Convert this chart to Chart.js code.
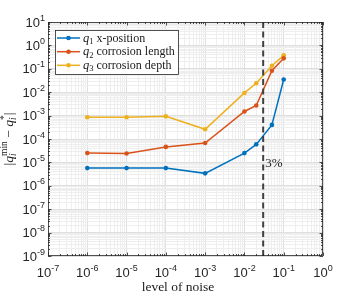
<!DOCTYPE html>
<html>
<head>
<meta charset="utf-8">
<script src="https://cdn.jsdelivr.net/npm/chart.js@4/dist/chart.umd.min.js"></script>
<style>
html,body{margin:0;padding:0;background:#fff;}
#wrap{width:357px;height:298px;position:relative;}
</style>
</head>
<body>
<div id="wrap"><canvas id="c" width="357" height="298"></canvas></div>
<script>
// ---- data ----
const noiseLevels = [1e-6, 1e-5, 1e-4, 1e-3, 1e-2, 2e-2, 5e-2, 1e-1];
const q1Error = [5.7e-6, 5.7e-6, 5.7e-6, 3.4e-6, 2.5e-5, 5.9e-5, 4.0e-4, 3.5e-2];
const q2Error = [2.5e-5, 2.4e-5, 4.6e-5, 6.7e-5, 1.5e-3, 2.7e-3, 8.3e-2, 2.8e-1];
const q3Error = [8.5e-4, 8.5e-4, 9.3e-4, 2.6e-4, 9.3e-3, 2.4e-2, 1.35e-1, 3.8e-1];
const seriesSubscripts = ['1', '2', '3'];
const seriesNames = ['x-position', 'corrosion length', 'corrosion depth'];
const seriesColors = ['#0072BD', '#D95319', '#EDB120'];
const thresholdNoise = 0.03;
const thresholdLabel = '3%';
const xTickExponents = [-7, -6, -5, -4, -3, -2, -1, 0];
const yTickExponents = [-9, -8, -7, -6, -5, -4, -3, -2, -1, 0, 1];
const xAxisTitle = 'level of noise';

const seriesValues = [q1Error, q2Error, q3Error];
const datasets = seriesValues.map((vals, i) => ({
  label: 'q' + seriesSubscripts[i] + ' ' + seriesNames[i],
  data: noiseLevels.map((x, j) => ({x: x, y: vals[j]})),
  borderColor: seriesColors[i],
  backgroundColor: seriesColors[i],
  borderWidth: 1.5,
  pointRadius: 2.3,
  pointHoverRadius: 2.3,
  pointBorderWidth: 0,
  tension: 0,
  fill: false
}));

function allLogTicks(minE, maxE) {
  const t = [];
  for (let e = minE; e < maxE; e++) {
    for (let m = 1; m <= 9; m++) t.push({value: m * Math.pow(10, e)});
  }
  t.push({value: Math.pow(10, maxE)});
  return t;
}
function isMajor(v) {
  const l = Math.log10(v);
  return Math.abs(l - Math.round(l)) < 1e-6;
}

const SERIF = '"Liberation Serif", "DejaVu Serif", serif';
const SANS = '"Liberation Sans", Arial, sans-serif';

function drawPieces(ctx, pieces, x, y) {
  let cx = x;
  for (const p of pieces) {
    ctx.font = p.font;
    ctx.fillText(p.t, cx, y + (p.dy || 0));
    cx += ctx.measureText(p.t).width + (p.after || 0);
  }
  return cx;
}
function piecesWidth(ctx, pieces) {
  let w = 0;
  for (const p of pieces) { ctx.font = p.font; w += ctx.measureText(p.t).width + (p.after || 0); }
  return w;
}

const decorPlugin = {
  id: 'decor',
  afterDraw(chart) {
    const ctx = chart.ctx;
    const a = chart.chartArea;
    const xs = chart.scales.x, ys = chart.scales.y;
    ctx.save();

    // threshold dashed line
    const tx = xs.getPixelForValue(thresholdNoise);
    ctx.strokeStyle = '#404040';
    ctx.lineWidth = 2;
    ctx.setLineDash([6, 3.5]);
    ctx.beginPath();
    ctx.moveTo(tx, a.top);
    ctx.lineTo(tx, a.bottom);
    ctx.stroke();
    ctx.setLineDash([]);

    ctx.fillStyle = '#1a1a1a';
    ctx.font = '13px ' + SERIF;
    ctx.textBaseline = 'middle';
    ctx.textAlign = 'left';
    ctx.fillText(thresholdLabel, tx + 2, ys.getPixelForValue(Math.pow(10, -5.07)));

    // box and inner ticks
    ctx.strokeStyle = '#262626';
    ctx.lineWidth = 0.8;
    ctx.strokeRect(Math.round(a.left) + 0.5, Math.round(a.top) + 0.5, Math.round(a.right - a.left) - 1, Math.round(a.bottom - a.top) - 1);
    ctx.beginPath();
    xs.ticks.forEach(t => {
      const px = Math.round(xs.getPixelForValue(t.value)) + 0.5;
      const L = isMajor(t.value) ? 3.5 : 2;
      ctx.moveTo(px, a.bottom); ctx.lineTo(px, a.bottom - L);
      ctx.moveTo(px, a.top); ctx.lineTo(px, a.top + L);
    });
    ys.ticks.forEach(t => {
      const py = Math.round(ys.getPixelForValue(t.value)) + 0.5;
      const L = isMajor(t.value) ? 3.5 : 2;
      ctx.moveTo(a.left, py); ctx.lineTo(a.left + L, py);
      ctx.moveTo(a.right, py); ctx.lineTo(a.right - L, py);
    });
    ctx.stroke();

    // tick labels
    ctx.fillStyle = '#262626';
    ctx.textAlign = 'left';
    ctx.textBaseline = 'alphabetic';
    const big = '13px ' + SANS, small = '9px ' + SANS;
    xTickExponents.forEach(e => {
      const px = xs.getPixelForValue(Math.pow(10, e));
      const pcs = [{t: '10', font: big}, {t: String(e), font: small, dy: -6}];
      const w = piecesWidth(ctx, pcs);
      drawPieces(ctx, pcs, px - w / 2, 277);
    });
    yTickExponents.forEach(e => {
      const py = ys.getPixelForValue(Math.pow(10, e));
      const pcs = [{t: '10', font: big}, {t: String(e), font: small, dy: -6}];
      const w = piecesWidth(ctx, pcs);
      drawPieces(ctx, pcs, 45 - w, py + 4.5);
    });

    // x axis title
    ctx.font = '13.5px ' + SERIF;
    ctx.textAlign = 'center';
    ctx.fillStyle = '#1a1a1a';
    ctx.fillText(xAxisTitle, 178, 291);

    // y axis title  |q_i^min - q_i^*|
    ctx.save();
    ctx.translate(9, 139);
    ctx.rotate(-Math.PI / 2);
    ctx.textAlign = 'left';
    const it = 'italic 13.5px ' + SERIF, rm = '13.5px ' + SERIF, sub = 'italic 9.5px ' + SERIF, sup = '9.5px ' + SERIF;
    ctx.fillStyle = '#1a1a1a';
    const wAll = (function(){
      let w = 0;
      ctx.font = rm; w += ctx.measureText('|').width * 2 + ctx.measureText(' \u2212 ').width;
      ctx.font = it; w += ctx.measureText('q').width * 2;
      ctx.font = sup; w += ctx.measureText('min').width + ctx.measureText('*').width;
      return w;
    })();
    let cx = -wAll / 2;
    const by = 4;
    ctx.font = rm; ctx.fillText('|', cx, by); cx += ctx.measureText('|').width;
    ctx.font = it; ctx.fillText('q', cx, by); cx += ctx.measureText('q').width;
    ctx.font = sub; ctx.fillText('i', cx, by + 3);
    ctx.font = sup; ctx.fillText('min', cx, by - 6); cx += ctx.measureText('min').width;
    ctx.font = rm; ctx.fillText(' \u2212 ', cx, by); cx += ctx.measureText(' \u2212 ').width;
    ctx.font = it; ctx.fillText('q', cx, by); cx += ctx.measureText('q').width;
    ctx.font = sub; ctx.fillText('i', cx, by + 3);
    ctx.font = sup; ctx.fillText('*', cx, by - 6); cx += ctx.measureText('*').width;
    ctx.font = rm; ctx.fillText('|', cx, by);
    ctx.restore();

    // legend
    const lx = 55, ly = 30, lw = 123, lh = 44;
    ctx.fillStyle = '#ffffff';
    ctx.fillRect(lx, ly, lw, lh);
    ctx.strokeStyle = '#262626';
    ctx.lineWidth = 0.8;
    ctx.strokeRect(lx + 0.5, ly + 0.5, lw, lh);
    const rows = [38, 51.7, 65.3];
    seriesNames.forEach((name, i) => {
      const ry = rows[i];
      ctx.strokeStyle = seriesColors[i];
      ctx.lineWidth = 1.5;
      ctx.beginPath(); ctx.moveTo(57, ry); ctx.lineTo(80, ry); ctx.stroke();
      ctx.fillStyle = seriesColors[i];
      ctx.beginPath(); ctx.arc(68.5, ry, 2.3, 0, Math.PI * 2); ctx.fill();
      ctx.fillStyle = '#1a1a1a';
      ctx.textAlign = 'left';
      drawPieces(ctx, [
        {t: 'q', font: 'italic 12.5px ' + SERIF},
        {t: seriesSubscripts[i], font: '8.5px ' + SERIF, dy: 2.5, after: 3},
        {t: name, font: '12px ' + SERIF}
      ], 83, ry + 3.5);
    });

    ctx.restore();
  }
};

new Chart(document.getElementById('c'), {
  type: 'line',
  data: {datasets: datasets},
  options: {
    responsive: false,
    animation: false,
    devicePixelRatio: 1,
    layout: {padding: {left: 0, right: 34, top: 22, bottom: 0}},
    plugins: {legend: {display: false}, tooltip: {enabled: false}},
    scales: {
      x: {
        type: 'logarithmic',
        min: 1e-7, max: 1,
        afterBuildTicks: s => { s.ticks = allLogTicks(-7, 0); },
        afterFit: s => { s.height = 42; },
        ticks: {callback: () => '', autoSkip: false, maxRotation: 0},
        grid: {
          color: c => isMajor(c.tick.value) ? '#dedede' : '#eeeeee',
          lineWidth: 1,
          drawTicks: false
        },
        border: {display: false}
      },
      y: {
        type: 'logarithmic',
        min: 1e-9, max: 10,
        afterBuildTicks: s => { s.ticks = allLogTicks(-9, 1); },
        afterFit: s => { s.width = 48; },
        ticks: {callback: () => '', autoSkip: false},
        grid: {
          color: c => isMajor(c.tick.value) ? '#dedede' : '#eeeeee',
          lineWidth: 1,
          drawTicks: false
        },
        border: {display: false}
      }
    }
  },
  plugins: [decorPlugin]
});
</script>
</body>
</html>
